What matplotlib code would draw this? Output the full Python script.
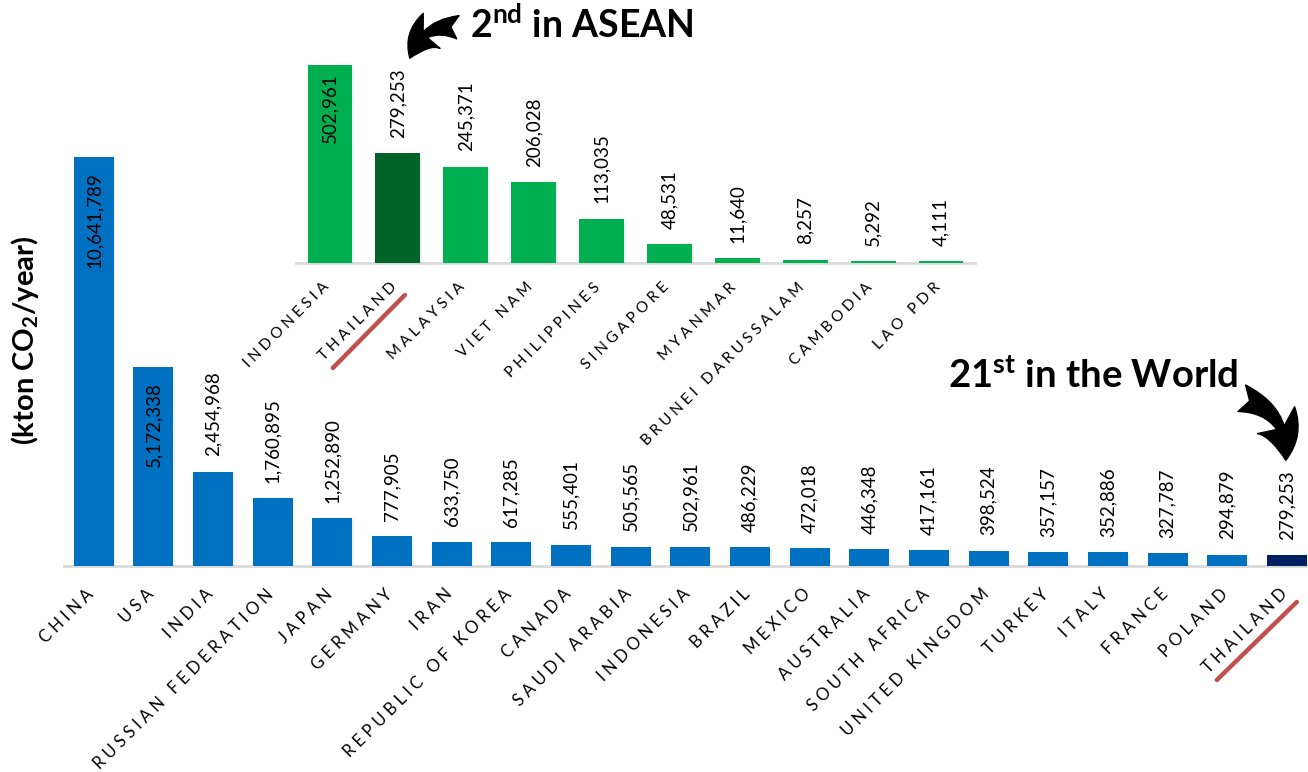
import matplotlib
matplotlib.use("Agg")
import matplotlib.pyplot as plt
from matplotlib import transforms as mtrans
import matplotlib.patheffects as pe

# ---------------- data ----------------
world_countries = ["CHINA", "USA", "INDIA", "RUSSIAN FEDERATION", "JAPAN", "GERMANY",
                   "IRAN", "REPUBLIC OF KOREA", "CANADA", "SAUDI ARABIA", "INDONESIA",
                   "BRAZIL", "MEXICO", "AUSTRALIA", "SOUTH AFRICA", "UNITED KINGDOM",
                   "TURKEY", "ITALY", "FRANCE", "POLAND", "THAILAND"]
world_emissions = [10641789, 5172338, 2454968, 1760895, 1252890, 777905, 633750,
                   617285, 555401, 505565, 502961, 486229, 472018, 446348, 417161,
                   398524, 357157, 352886, 327787, 294879, 279253]

asean_countries = ["INDONESIA", "THAILAND", "MALAYSIA", "VIET NAM", "PHILIPPINES",
                   "SINGAPORE", "MYANMAR", "BRUNEI DARUSSALAM", "CAMBODIA", "LAO PDR"]
asean_emissions = [502961, 279253, 245371, 206028, 113035, 48531, 11640, 8257, 5292, 4111]

highlight = "THAILAND"
y_label = "(kton CO$_2$/year)"
asean_note = "$2^{nd}$ in ASEAN"
world_note = "$21^{st}$ in the World"

# ---------------- style ----------------
plt.rcParams["font.family"] = ["Lato", "DejaVu Sans"]
plt.rcParams["mathtext.fontset"] = "custom"
plt.rcParams["mathtext.rm"] = "Lato:bold"
plt.rcParams["mathtext.it"] = "Lato:bold"
plt.rcParams["mathtext.bf"] = "Lato:bold"

W, H = 1308, 772
fig = plt.figure(figsize=(W / 100, H / 100), dpi=100)


def px_rect(l, t, r, b):
    return [l / W, 1 - b / H, (r - l) / W, (b - t) / H]


ax = fig.add_axes(px_rect(64, 140, 1308, 566))
ax_in = fig.add_axes(px_rect(296, 40, 975, 263))


def spaced(name):
    return "\u2005".join(name)


def px_off(dx, dy):
    return mtrans.ScaledTranslation(dx / 100, dy / 100, fig.dpi_scale_trans)


def draw(a, names, vals, color, hi_color, width, n_inside, in_off, ymax, xmax,
         tick_fs, lab_off):
    xs = list(range(len(names)))
    colors = [hi_color if n == highlight else color for n in names]
    bars = a.bar(xs, vals, width=width, color=colors, zorder=2)
    for b in bars:
        b.set_path_effects([pe.SimplePatchShadow(offset=(1.2, -1.0), alpha=0.06),
                            pe.Normal()])
    for i, v in enumerate(vals):
        if i < n_inside:
            a.annotate(f"{v:,}", (i, v), xytext=(0, -in_off), textcoords="offset points",
                       rotation=90, ha="center", va="top", fontsize=13.5, zorder=3)
        else:
            a.annotate(f"{v:,}", (i, v), xytext=(0, 11), textcoords="offset points",
                       rotation=90, ha="center", va="bottom", fontsize=13.5, zorder=3)
    a.set_xlim(-0.5, xmax)
    a.set_ylim(0, ymax)
    a.set_yticks([])
    a.set_xticks([])
    tr = a.get_xaxis_transform() + px_off(*lab_off)
    for i, n in enumerate(names):
        a.text(i, 0, spaced(n), transform=tr, rotation=45, rotation_mode="anchor",
               ha="right", va="top", fontsize=tick_fs, clip_on=False)
    for s in ["top", "left", "right"]:
        a.spines[s].set_visible(False)
    a.spines["bottom"].set_color("#D9D9D9")
    a.spines["bottom"].set_linewidth(2)
    a.spines["bottom"].set_zorder(1)
    a.patch.set_alpha(0)
    return xs


def underline(a, idx, p0, p1):
    ann = a.annotate("", xy=(idx, 0), xycoords=a.transData + px_off(*p1),
                     xytext=(idx, 0), textcoords=a.transData + px_off(*p0),
                     arrowprops=dict(arrowstyle="-", color="#C0504D", lw=3.2,
                                     shrinkA=0, shrinkB=0),
                     annotation_clip=False)
    ann.arrow_patch.set_path_effects([pe.SimplePatchShadow(offset=(1.5, -1.5), alpha=0.3),
                                      pe.Normal()])


def curved_arrow(a, idx, val, tip_off, tail_off, rad, scale):
    a.annotate("", xy=(idx, val), xycoords=a.transData + px_off(*tip_off),
               xytext=(idx, val), textcoords=a.transData + px_off(tip_off[0] + tail_off[0],
                                                                  tip_off[1] + tail_off[1]),
               arrowprops=dict(arrowstyle="fancy,head_length=0.9,head_width=1.0,tail_width=0.6",
                               color="black", mutation_scale=scale, shrinkA=0, shrinkB=0,
                               connectionstyle=f"arc3,rad={rad}"),
               annotation_clip=False)


draw(ax, world_countries, world_emissions, "#0070C0", "#002060", 0.67, 2, 11,
     11084000, 20.355, 12, (-8, -20))
draw(ax_in, asean_countries, asean_emissions, "#00B050", "#006428", 0.66, 1, 6,
     567400, 9.5, 11, (-8, -17))

i_w = world_countries.index(highlight)
i_a = asean_countries.index(highlight)
underline(ax, i_w, (-70, -114), (10, -36))
underline(ax_in, i_a, (-65, -105), (7, -32))

curved_arrow(ax_in, i_a, asean_emissions[i_a], (12, 95), (48, 31), 0.4, 28)
curved_arrow(ax, i_w, world_emissions[i_w], (-1, 95), (-44, 62), -0.4, 33)

fig.text(470 / W, 1 - 38 / H, asean_note, fontsize=27, fontweight="bold",
         ha="left", va="baseline")
fig.text(948 / W, 1 - 388 / H, world_note, fontsize=27.5, fontweight="bold",
         ha="left", va="baseline")
fig.text(25 / W, 1 - 340 / H, y_label, fontsize=21, fontweight="bold", rotation=90,
         ha="center", va="center")

fig.savefig("out.png", dpi=100, facecolor="white")
